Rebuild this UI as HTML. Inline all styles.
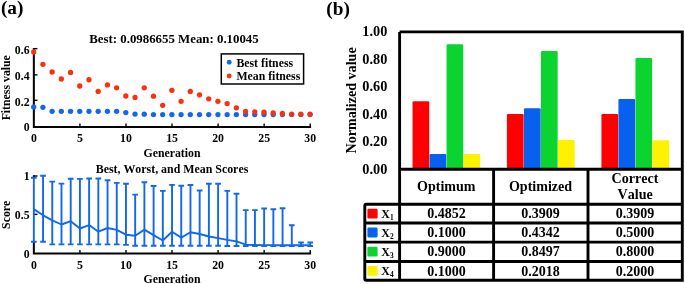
<!DOCTYPE html>
<html><head><meta charset="utf-8"><title>figure</title>
<style>html,body{margin:0;padding:0;background:#fff;width:685px;height:284px;overflow:hidden;font-family:"Liberation Serif",serif}</style>
</head><body>
<svg width="685" height="284" viewBox="0 0 685 284" style="position:absolute;left:0;top:0;will-change:transform;font-kerning:none" font-family="'Liberation Serif', serif" font-weight="bold" fill="#000">
<rect width="685" height="284" fill="#fff"/>
<text x="0.9" y="14.1" font-size="19.3">(a)</text>
<text x="326.3" y="14.5" font-size="19.3">(b)</text>
<text x="174" y="43" font-size="12.85" text-anchor="middle">Best: 0.0986655 Mean: 0.10045</text>
<path d="M33.85 48.1 V127.0 H311.11" fill="none" stroke="#000" stroke-width="2.0"/>
<path d="M33.85 48.65 h3.6" stroke="#000" stroke-width="1.4"/>
<path d="M33.85 74.85 h3.6" stroke="#000" stroke-width="1.4"/>
<path d="M33.85 100.3 h3.6" stroke="#000" stroke-width="1.4"/>
<path d="M79.91 127.0 v-3.5" stroke="#000" stroke-width="1.4"/>
<path d="M125.97 127.0 v-3.5" stroke="#000" stroke-width="1.4"/>
<path d="M172.03 127.0 v-3.5" stroke="#000" stroke-width="1.4"/>
<path d="M218.09 127.0 v-3.5" stroke="#000" stroke-width="1.4"/>
<path d="M264.15 127.0 v-3.5" stroke="#000" stroke-width="1.4"/>
<path d="M310.21 127.0 v-3.5" stroke="#000" stroke-width="1.4"/>
<text x="29.6" y="53.8" font-size="11.8" text-anchor="end">0.6</text>
<text x="29.6" y="79.7" font-size="11.8" text-anchor="end">0.4</text>
<text x="29.6" y="105.5" font-size="11.8" text-anchor="end">0.2</text>
<text x="29.6" y="130.7" font-size="11.8" text-anchor="end">0</text>
<text x="33.85" y="141.95" font-size="11.8" text-anchor="middle">0</text>
<text x="79.91" y="141.95" font-size="11.8" text-anchor="middle">5</text>
<text x="125.97" y="141.95" font-size="11.8" text-anchor="middle">10</text>
<text x="172.03" y="141.95" font-size="11.8" text-anchor="middle">15</text>
<text x="218.09" y="141.95" font-size="11.8" text-anchor="middle">20</text>
<text x="264.15" y="141.95" font-size="11.8" text-anchor="middle">25</text>
<text x="310.21" y="141.95" font-size="11.8" text-anchor="middle">30</text>
<text x="172" y="156.5" font-size="11.8" text-anchor="middle">Generation</text>
<text transform="translate(9.9,87.75) rotate(-90)" font-size="11.8" text-anchor="middle">Fitness value</text>
<circle cx="33.70" cy="106.9" r="2.65" fill="#1268ec"/>
<circle cx="42.91" cy="107.3" r="2.65" fill="#1268ec"/>
<circle cx="52.12" cy="111.3" r="2.65" fill="#1268ec"/>
<circle cx="61.34" cy="111.3" r="2.65" fill="#1268ec"/>
<circle cx="70.55" cy="111.3" r="2.65" fill="#1268ec"/>
<circle cx="79.76" cy="111.3" r="2.65" fill="#1268ec"/>
<circle cx="88.97" cy="111.3" r="2.65" fill="#1268ec"/>
<circle cx="98.18" cy="111.3" r="2.65" fill="#1268ec"/>
<circle cx="107.40" cy="111.3" r="2.65" fill="#1268ec"/>
<circle cx="116.61" cy="111.3" r="2.65" fill="#1268ec"/>
<circle cx="125.82" cy="112.6" r="2.65" fill="#1268ec"/>
<circle cx="135.03" cy="114.1" r="2.65" fill="#1268ec"/>
<circle cx="144.24" cy="114.2" r="2.65" fill="#1268ec"/>
<circle cx="153.46" cy="114.6" r="2.65" fill="#1268ec"/>
<circle cx="162.67" cy="114.6" r="2.65" fill="#1268ec"/>
<circle cx="171.88" cy="114.6" r="2.65" fill="#1268ec"/>
<circle cx="181.09" cy="114.6" r="2.65" fill="#1268ec"/>
<circle cx="190.30" cy="114.6" r="2.65" fill="#1268ec"/>
<circle cx="199.52" cy="114.6" r="2.65" fill="#1268ec"/>
<circle cx="208.73" cy="114.6" r="2.65" fill="#1268ec"/>
<circle cx="217.94" cy="114.6" r="2.65" fill="#1268ec"/>
<circle cx="227.15" cy="114.6" r="2.65" fill="#1268ec"/>
<circle cx="236.36" cy="114.6" r="2.65" fill="#1268ec"/>
<circle cx="245.58" cy="114.6" r="2.65" fill="#1268ec"/>
<circle cx="254.79" cy="114.6" r="2.65" fill="#1268ec"/>
<circle cx="264.00" cy="114.6" r="2.65" fill="#1268ec"/>
<circle cx="273.21" cy="114.6" r="2.65" fill="#1268ec"/>
<circle cx="282.42" cy="114.6" r="2.65" fill="#1268ec"/>
<circle cx="291.64" cy="114.6" r="2.65" fill="#1268ec"/>
<circle cx="300.85" cy="114.6" r="2.65" fill="#1268ec"/>
<circle cx="310.06" cy="114.6" r="2.65" fill="#1268ec"/>
<circle cx="33.70" cy="52.0" r="2.65" fill="#ff2e0c"/>
<circle cx="42.91" cy="64.3" r="2.65" fill="#ff2e0c"/>
<circle cx="52.12" cy="72.0" r="2.65" fill="#ff2e0c"/>
<circle cx="61.34" cy="79.0" r="2.65" fill="#ff2e0c"/>
<circle cx="70.55" cy="72.4" r="2.65" fill="#ff2e0c"/>
<circle cx="79.76" cy="86.0" r="2.65" fill="#ff2e0c"/>
<circle cx="88.97" cy="79.75" r="2.65" fill="#ff2e0c"/>
<circle cx="98.18" cy="91.4" r="2.65" fill="#ff2e0c"/>
<circle cx="107.40" cy="84.9" r="2.65" fill="#ff2e0c"/>
<circle cx="116.61" cy="87.8" r="2.65" fill="#ff2e0c"/>
<circle cx="125.82" cy="96.0" r="2.65" fill="#ff2e0c"/>
<circle cx="135.03" cy="97.4" r="2.65" fill="#ff2e0c"/>
<circle cx="144.24" cy="87.8" r="2.65" fill="#ff2e0c"/>
<circle cx="153.46" cy="96.2" r="2.65" fill="#ff2e0c"/>
<circle cx="162.67" cy="105.35" r="2.65" fill="#ff2e0c"/>
<circle cx="171.88" cy="90.3" r="2.65" fill="#ff2e0c"/>
<circle cx="181.09" cy="101.3" r="2.65" fill="#ff2e0c"/>
<circle cx="190.30" cy="91.5" r="2.65" fill="#ff2e0c"/>
<circle cx="199.52" cy="94.85" r="2.65" fill="#ff2e0c"/>
<circle cx="208.73" cy="98.8" r="2.65" fill="#ff2e0c"/>
<circle cx="217.94" cy="101.3" r="2.65" fill="#ff2e0c"/>
<circle cx="227.15" cy="103.6" r="2.65" fill="#ff2e0c"/>
<circle cx="236.36" cy="107.8" r="2.65" fill="#ff2e0c"/>
<circle cx="245.58" cy="111.5" r="2.65" fill="#ff2e0c"/>
<circle cx="254.79" cy="111.85" r="2.65" fill="#ff2e0c"/>
<circle cx="264.00" cy="112.2" r="2.65" fill="#ff2e0c"/>
<circle cx="273.21" cy="112.8" r="2.65" fill="#ff2e0c"/>
<circle cx="282.42" cy="113.5" r="2.65" fill="#ff2e0c"/>
<circle cx="291.64" cy="114.1" r="2.65" fill="#ff2e0c"/>
<circle cx="300.85" cy="114.1" r="2.65" fill="#ff2e0c"/>
<circle cx="310.06" cy="114.1" r="2.65" fill="#ff2e0c"/>
<rect x="221.3" y="53.9" width="82.3" height="30.1" fill="#fff" stroke="#000" stroke-width="1.5"/>
<circle cx="229.2" cy="62.2" r="2.45" fill="#1268ec"/>
<circle cx="229.2" cy="76.0" r="2.45" fill="#ff2e0c"/>
<text x="236.4" y="66.5" font-size="11.8">Best fitness</text>
<text x="236.4" y="79.8" font-size="11.8">Mean fitness</text>
<text x="172" y="172.6" font-size="11.9" text-anchor="middle">Best, Worst, and Mean Scores</text>
<path d="M33.85 175.2 V178 M33.85 241.5 V253.5 H311.11" fill="none" stroke="#000" stroke-width="2.0"/>
<path d="M33.85 176.0 h3.6" stroke="#000" stroke-width="1.4"/>
<path d="M33.85 214.35 h3.6" stroke="#000" stroke-width="1.4"/>
<path d="M79.91 253.5 v-3.5" stroke="#000" stroke-width="1.4"/>
<path d="M125.97 253.5 v-3.5" stroke="#000" stroke-width="1.4"/>
<path d="M172.03 253.5 v-3.5" stroke="#000" stroke-width="1.4"/>
<path d="M218.09 253.5 v-3.5" stroke="#000" stroke-width="1.4"/>
<path d="M264.15 253.5 v-3.5" stroke="#000" stroke-width="1.4"/>
<path d="M310.21 253.5 v-3.5" stroke="#000" stroke-width="1.4"/>
<text x="29.6" y="180.4" font-size="11.8" text-anchor="end">1</text>
<text x="29.6" y="218.7" font-size="11.8" text-anchor="end">0.5</text>
<text x="29.6" y="257.8" font-size="11.8" text-anchor="end">0</text>
<text x="33.85" y="269.2" font-size="11.8" text-anchor="middle">0</text>
<text x="79.91" y="269.2" font-size="11.8" text-anchor="middle">5</text>
<text x="125.97" y="269.2" font-size="11.8" text-anchor="middle">10</text>
<text x="172.03" y="269.2" font-size="11.8" text-anchor="middle">15</text>
<text x="218.09" y="269.2" font-size="11.8" text-anchor="middle">20</text>
<text x="264.15" y="269.2" font-size="11.8" text-anchor="middle">25</text>
<text x="310.21" y="269.2" font-size="11.8" text-anchor="middle">30</text>
<text x="172" y="282.9" font-size="11.8" text-anchor="middle">Generation</text>
<text transform="translate(10.0,214.8) rotate(-90)" font-size="11.8" text-anchor="middle">Score</text>
<path d="M33.85 177.7V241.8M31.00 177.7h5.7M31.00 241.8h5.7M43.06 175.8V241.8M40.21 175.8h5.7M40.21 241.8h5.7M52.27 181.6V244.4M49.42 181.6h5.7M49.42 244.4h5.7M61.49 183.6V244.4M58.64 183.6h5.7M58.64 244.4h5.7M70.70 178.8V244.4M67.85 178.8h5.7M67.85 244.4h5.7M79.91 178.9V244.4M77.06 178.9h5.7M77.06 244.4h5.7M89.12 178.5V244.4M86.27 178.5h5.7M86.27 244.4h5.7M98.33 178.5V244.4M95.48 178.5h5.7M95.48 244.4h5.7M107.55 180.2V244.4M104.70 180.2h5.7M104.70 244.4h5.7M116.76 182.9V244.4M113.91 182.9h5.7M113.91 244.4h5.7M125.97 183.8V244.9M123.12 183.8h5.7M123.12 244.9h5.7M135.18 194.6V245.7M132.33 194.6h5.7M132.33 245.7h5.7M144.39 182.2V245.7M141.54 182.2h5.7M141.54 245.7h5.7M153.61 186.0V245.7M150.76 186.0h5.7M150.76 245.7h5.7M162.82 190.9V245.7M159.97 190.9h5.7M159.97 245.7h5.7M172.03 184.9V245.7M169.18 184.9h5.7M169.18 245.7h5.7M181.24 185.8V245.7M178.39 185.8h5.7M178.39 245.7h5.7M190.45 185.0V245.7M187.60 185.0h5.7M187.60 245.7h5.7M199.67 190.5V245.7M196.82 190.5h5.7M196.82 245.7h5.7M208.88 183.8V245.7M206.03 183.8h5.7M206.03 245.7h5.7M218.09 183.8V245.7M215.24 183.8h5.7M215.24 245.7h5.7M227.30 190.9V246.0M224.45 190.9h5.7M224.45 246.0h5.7M236.51 193.8V246.0M233.66 193.8h5.7M233.66 246.0h5.7M245.73 210.15V246.0M242.88 210.15h5.7M242.88 246.0h5.7M254.94 210.1V246.0M252.09 210.1h5.7M252.09 246.0h5.7M264.15 208.5V246.0M261.30 208.5h5.7M261.30 246.0h5.7M273.36 209.2V246.0M270.51 209.2h5.7M270.51 246.0h5.7M282.57 208.3V246.0M279.72 208.3h5.7M279.72 246.0h5.7M291.79 225.2V246.0M288.94 225.2h5.7M288.94 246.0h5.7M301.00 242.5V246.0M298.15 242.5h5.7M298.15 246.0h5.7M310.21 242.5V246.0M307.36 242.5h5.7M307.36 246.0h5.7" fill="none" stroke="#1268ec" stroke-width="1.9"/>
<path d="M33.85 209.1 L43.06 215.3 L52.27 220.4 L61.49 224.5 L70.70 221.2 L79.91 228.5 L89.12 225.1 L98.33 231.7 L107.55 228.0 L116.76 229.9 L125.97 234.7 L135.18 235.7 L144.39 229.6 L153.61 235.1 L162.82 240.5 L172.03 231.8 L181.24 237.6 L190.45 232.2 L199.67 234.0 L208.88 236.5 L218.09 238.1 L227.30 239.9 L236.51 241.4 L245.73 244.7 L254.94 245.0 L264.15 245.1 L273.36 245.2 L282.57 245.3 L291.79 245.3 L301.00 245.3 L310.21 245.3" fill="none" stroke="#1268ec" stroke-width="1.9" stroke-linejoin="round"/>
<path d="M412.55 169.2V102.33q0-1.2 1.2-1.2h14.30q1.2 0 1.2 1.2V169.2z" fill="#ff0000"/>
<path d="M429.55 169.2V155.22q0-1.2 1.2-1.2h14.30q1.2 0 1.2 1.2V169.2z" fill="#0860ee"/>
<path d="M446.55 169.2V45.38q0-1.2 1.2-1.2h14.30q1.2 0 1.2 1.2V169.2z" fill="#0bd32f"/>
<path d="M463.55 169.2V155.22q0-1.2 1.2-1.2h14.30q1.2 0 1.2 1.2V169.2z" fill="#fff200"/>
<path d="M506.95 169.2V115.28q0-1.2 1.2-1.2h14.30q1.2 0 1.2 1.2V169.2z" fill="#ff0000"/>
<path d="M523.95 169.2V109.33q0-1.2 1.2-1.2h14.30q1.2 0 1.2 1.2V169.2z" fill="#0860ee"/>
<path d="M540.95 169.2V52.29q0-1.2 1.2-1.2h14.30q1.2 0 1.2 1.2V169.2z" fill="#0bd32f"/>
<path d="M557.95 169.2V141.24q0-1.2 1.2-1.2h14.30q1.2 0 1.2 1.2V169.2z" fill="#fff200"/>
<path d="M601.45 169.2V115.28q0-1.2 1.2-1.2h14.30q1.2 0 1.2 1.2V169.2z" fill="#ff0000"/>
<path d="M618.45 169.2V100.30q0-1.2 1.2-1.2h14.30q1.2 0 1.2 1.2V169.2z" fill="#0860ee"/>
<path d="M635.45 169.2V59.11q0-1.2 1.2-1.2h14.30q1.2 0 1.2 1.2V169.2z" fill="#0bd32f"/>
<path d="M652.45 169.2V141.49q0-1.2 1.2-1.2h14.30q1.2 0 1.2 1.2V169.2z" fill="#fff200"/>
<text x="387.4" y="36.45" font-size="14.3" text-anchor="end">1.00</text>
<text x="387.4" y="63.91" font-size="14.3" text-anchor="end">0.80</text>
<text x="387.4" y="91.37" font-size="14.3" text-anchor="end">0.60</text>
<text x="387.4" y="118.83" font-size="14.3" text-anchor="end">0.40</text>
<text x="387.4" y="146.29" font-size="14.3" text-anchor="end">0.20</text>
<text x="387.4" y="173.75" font-size="14.3" text-anchor="end">0.00</text>
<text transform="translate(356.0,100.4) rotate(-90)" font-size="14.1" text-anchor="middle">Normalized value</text>
<path d="M399.6 31.9H682.3V280.3H366.3q-1.5 0 -1.5 -1.5V205.8q0 -1.5 1.5 -1.5H682.3M399.6 31.9V280.3M493.6 169.2V280.3M588.0 169.2V280.3M399.6 169.2H682.3" fill="none" stroke="#000" stroke-width="2.9" stroke-linejoin="miter"/>
<path d="M364.8 223.05H682.3" stroke="#000" stroke-width="2.9"/>
<path d="M364.8 242.15H682.3" stroke="#000" stroke-width="2.9"/>
<path d="M364.8 261.5H682.3" stroke="#000" stroke-width="2.9"/>
<text x="446.30" y="190.9" font-size="14.05" text-anchor="middle">Optimum</text>
<text x="540.50" y="190.9" font-size="14.05" text-anchor="middle">Optimized</text>
<text x="634.95" y="182.6" font-size="14.05" text-anchor="middle">Correct</text>
<text x="635.15" y="199.0" font-size="14.05" text-anchor="middle">Value</text>
<rect x="367.4" y="208.68" width="10.2" height="9.8" rx="1.3" fill="#ff0000"/>
<text x="381.3" y="217.58" font-size="11.9">X<tspan font-size="7.4" dx="0.2" dy="2.2">1</tspan></text>
<text x="446.40" y="218.28" font-size="14.0" text-anchor="middle">0.4852</text>
<text x="540.60" y="218.28" font-size="14.0" text-anchor="middle">0.3909</text>
<text x="634.95" y="218.28" font-size="14.0" text-anchor="middle">0.3909</text>
<rect x="367.4" y="227.60" width="10.2" height="9.8" rx="1.3" fill="#0860ee"/>
<text x="381.3" y="236.50" font-size="11.9">X<tspan font-size="7.4" dx="0.2" dy="2.2">2</tspan></text>
<text x="446.40" y="237.20" font-size="14.0" text-anchor="middle">0.1000</text>
<text x="540.60" y="237.20" font-size="14.0" text-anchor="middle">0.4342</text>
<text x="634.95" y="237.20" font-size="14.0" text-anchor="middle">0.5000</text>
<rect x="367.4" y="246.82" width="10.2" height="9.8" rx="1.3" fill="#0bd32f"/>
<text x="381.3" y="255.72" font-size="11.9">X<tspan font-size="7.4" dx="0.2" dy="2.2">3</tspan></text>
<text x="446.40" y="256.43" font-size="14.0" text-anchor="middle">0.9000</text>
<text x="540.60" y="256.43" font-size="14.0" text-anchor="middle">0.8497</text>
<text x="634.95" y="256.43" font-size="14.0" text-anchor="middle">0.8000</text>
<rect x="367.4" y="265.90" width="10.2" height="9.8" rx="1.3" fill="#fff200"/>
<text x="381.3" y="274.80" font-size="11.9">X<tspan font-size="7.4" dx="0.2" dy="2.2">4</tspan></text>
<text x="446.40" y="275.50" font-size="14.0" text-anchor="middle">0.1000</text>
<text x="540.60" y="275.50" font-size="14.0" text-anchor="middle">0.2018</text>
<text x="634.95" y="275.50" font-size="14.0" text-anchor="middle">0.2000</text>
</svg>
</body></html>
